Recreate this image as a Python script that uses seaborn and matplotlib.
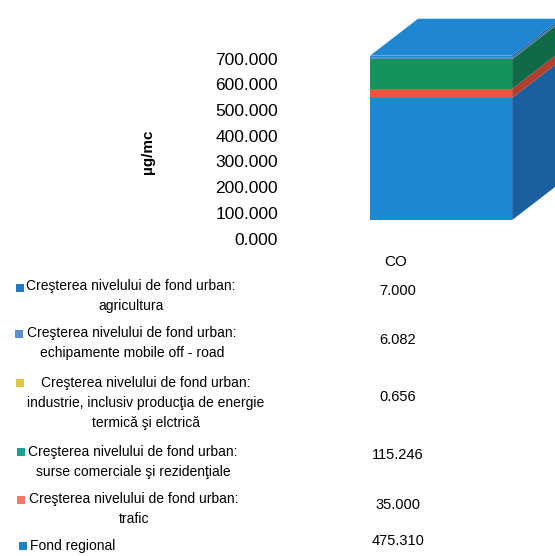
import matplotlib.pyplot as plt
import matplotlib.patches as mpatches
import matplotlib.transforms as mtransforms
import seaborn as sns
import numpy as np

# date (µg/mc), de jos in sus
surse = [
    "Fond regional",
    "Creşterea nivelului de fond urban:\ntrafic",
    "Creşterea nivelului de fond urban:\nsurse comerciale şi rezidenţiale",
    "Creşterea nivelului de fond urban:\nindustrie, inclusiv producţia de energie\ntermică şi elctrică",
    "Creşterea nivelului de fond urban:\nechipamente mobile off - road",
    "Creşterea nivelului de fond urban:\nagricultura",
]
valori = [475.310, 35.000, 115.246, 0.656, 6.082, 7.000]
valori_txt = ["475.310", "35.000", "115.246", "0.656", "6.082", "7.000"]
poluant = "CO"
yticks = [0, 100, 200, 300, 400, 500, 600, 700]

culori_fata = ["#1e88d4", "#e8553e", "#14935a", "#e0c840", "#5a8fd0", "#1f86d2"]
culori_lateral = ["#1a5f9e", "#b23e2e", "#0f6a48", "#a89530", "#3f6a9c", "#1a5f9e"]
culori_legenda = ["#1f80c8", "#f07a68", "#1fa096", "#e0c840", "#5a8fd0", "#1f78c8"]

W, H = 555, 556
FONT = ["Liberation Sans", "DejaVu Sans"]
TXT = "#000000"

sns.set_style("white")
plt.rcParams["font.family"] = FONT

fig = plt.figure(figsize=(W / 100, H / 100), dpi=100)
ax = fig.add_axes([285 / W, 1 - 250 / H, 270 / W, 250 / H])

# bare stivuite: totalurile cumulate desenate de sus in jos
cumul = np.cumsum(valori)
for i in reversed(range(len(valori))):
    sns.barplot(x=[poluant], y=[cumul[i]], color=culori_fata[i], saturation=1,
                width=0.6, ax=ax, linewidth=0)

ax.set_xlim(-0.659, 0.481)
ax.set_ylim(-116.7, 856)

# efect 3D: fete laterale si capac
dx, dy = 0.203, 144
x1 = 0.3
baze = np.concatenate([[0], cumul[:-1]])
for b, t, c in zip(baze, cumul, culori_lateral):
    ax.add_patch(mpatches.Polygon([(x1, b), (x1 + dx, b + dy), (x1 + dx, t + dy), (x1, t)],
                                  closed=True, color=c, lw=0, clip_on=False))
T = cumul[-1]
ax.add_patch(mpatches.Polygon([(-x1, T), (x1, T), (x1 + dx, T + dy), (-x1 + dx, T + dy)],
                              closed=True, color=culori_fata[-1], lw=0, clip_on=False))

ax.set_xticks([])
ax.set_yticks([])
ax.set_xlabel("")
ax.set_ylabel("")
for s in ax.spines.values():
    s.set_visible(False)

# etichetele axei Y (deplasate ca in graficul 3D)
off = mtransforms.ScaledTranslation(-7 / 100, -20 / 100, fig.dpi_scale_trans)
for v in yticks:
    ax.text(0, v, f"{v:.3f}", transform=ax.get_yaxis_transform() + off,
            ha="right", va="center", fontsize=12.5, color=TXT)
fig.text(148 / W, 1 - 152 / H, "µg/mc", rotation=90, ha="center", va="center",
         fontsize=11, fontweight="bold", color=TXT)

# tabelul de date
fig.text(396 / W, 1 - 262 / H, poluant, ha="center", va="center", fontsize=11, color=TXT)

randuri = [  # de sus in jos: (centru text, y text, y valoare, marker x, marker y)
    (131, 296, 291, 20, 288),
    (132, 343, 340, 19, 334),
    (146, 403, 397, 20, 383),
    (133, 462, 455, 21, 452),
    (134, 509, 505, 21, 500),
    (73, 546, 541, 23, 546),
]
for k, (cx, ty, vy, mx, my) in enumerate(randuri):
    i = len(valori) - 1 - k
    fig.text(cx / W, 1 - ty / H, surse[i], ha="center", va="center", ma="center",
             fontsize=10, color=TXT, linespacing=1.55)
    fig.text(398 / W, 1 - vy / H, valori_txt[i], ha="center", va="center",
             fontsize=10.5, color=TXT)
    fig.patches.append(mpatches.Rectangle(((mx - 4) / W, 1 - (my + 4) / H), 8 / W, 8 / H,
                                          transform=fig.transFigure, color=culori_legenda[i],
                                          lw=0))

fig.savefig("out.png", dpi=100)
